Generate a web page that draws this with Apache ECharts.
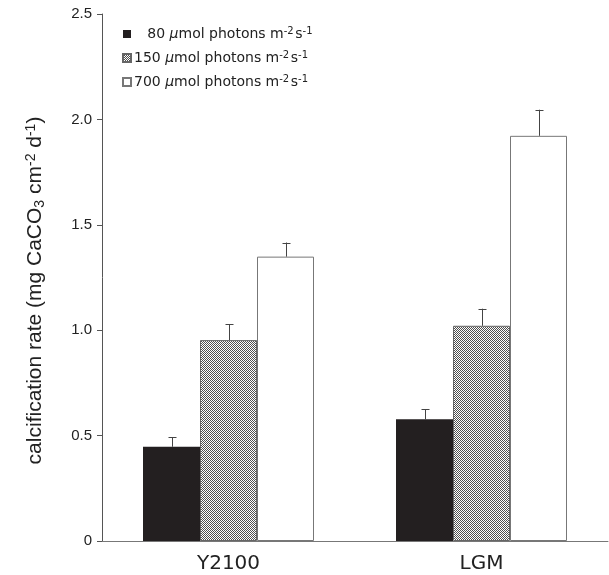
<!DOCTYPE html>
<html>
<head>
<meta charset="utf-8">
<script src="https://cdn.jsdelivr.net/npm/echarts@6/dist/echarts.min.js"></script>
<style>html,body{margin:0;padding:0;background:#fff}#c{width:609px;height:575px}</style>
</head>
<body>
<div id="c"></div>
<script>
const categories = ['Y2100', 'LGM'];
const seriesNames = ['80', '150', '700'];
const means80 = [0.447, 0.577];
const means150 = [0.953, 1.021];
const means700 = [1.349, 1.922];
const upper80 = [0.492, 0.626];
const upper150 = [1.029, 1.102];
const upper700 = [1.416, 2.046];
const yMin = 0, yMax = 2.5, yStep = 0.5;

const BAR_W = 57;

// dotted fill pattern
const pc = document.createElement('canvas');
pc.width = 2; pc.height = 2;
const pctx = pc.getContext('2d');
pctx.fillStyle = '#ffffff'; pctx.fillRect(0, 0, 2, 2);
pctx.fillStyle = '#505050'; pctx.fillRect(0, 0, 1, 1); pctx.fillRect(1, 1, 1, 1);

const means = [means80, means150, means700];
const uppers = [upper80, upper150, upper700];
const styles = [
  { color: '#231f20', borderColor: '#231f20', borderWidth: 0 },
  { color: { image: pc, repeat: 'repeat' }, borderColor: '#666', borderWidth: 1 },
  { color: '#ffffff', borderColor: '#777', borderWidth: 1 }
];

const series = [];
seriesNames.forEach((n, k) => {
  series.push({
    name: n, type: 'bar', barWidth: BAR_W, barGap: '0%',
    data: means[k], itemStyle: styles[k], silent: true
  });
});
seriesNames.forEach((n, k) => {
  series.push({
    type: 'custom', z: 5, silent: true,
    encode: { x: 0, y: [1, 2] },
    data: categories.map((c, i) => [i, means[k][i], uppers[k][i]]),
    renderItem: function (params, api) {
      const i = api.value(0);
      const b = api.coord([i, api.value(1)]);
      const t = api.coord([i, api.value(2)]);
      const x = Math.round(b[0] + (k - 1) * BAR_W) + 0.5;
      return {
        type: 'group',
        children: [
          { type: 'line', shape: { x1: x, y1: b[1], x2: x, y2: t[1] }, style: { stroke: '#444', lineWidth: 1 } },
          { type: 'line', shape: { x1: x - 4, y1: Math.round(t[1]) + 0.5, x2: x + 4, y2: Math.round(t[1]) + 0.5 }, style: { stroke: '#444', lineWidth: 1 } }
        ]
      };
    }
  });
});

const chart = echarts.init(document.getElementById('c'), null, { renderer: 'canvas' });
chart.setOption({
  animation: false,
  backgroundColor: '#fff',
  grid: { left: 102, right: 1, top: 14, bottom: 34 },
  legend: {
    data: seriesNames,
    orient: 'vertical',
    left: 117, top: 21,
    itemWidth: 8, itemHeight: 8, itemGap: 9,
    icon: 'rect',
    selectedMode: false,
    formatter: function (n) {
      const pad = n.length < 3 ? '\u2007 ' : '';
      return pad + n + ' {mu|μ}mol photons m{sup|-2}{sp| }s{sup|-1}';
    },
    textStyle: {
      fontFamily: 'DejaVu Sans', fontSize: 14, color: '#222', padding: [0, 0, 0, -2],
      rich: {
        mu: { fontFamily: 'DejaVu Sans', fontStyle: 'italic', fontSize: 14, color: '#222' },
        sup: { fontFamily: 'DejaVu Sans', fontSize: 10, color: '#222', verticalAlign: 'top', padding: [0, 0, 6, 0] },
        sp: { fontSize: 5 }
      }
    }
  },
  xAxis: {
    type: 'category', data: categories,
    axisLine: { lineStyle: { color: '#777', width: 1 } },
    axisTick: { show: false },
    axisLabel: { fontFamily: 'DejaVu Sans', fontSize: 20, color: '#222', margin: 13 }
  },
  yAxis: {
    type: 'value', min: yMin, max: yMax, interval: yStep,
    splitLine: { show: false },
    axisLine: { show: true, lineStyle: { color: '#555', width: 1 } },
    axisTick: { show: true, inside: false, length: 5, lineStyle: { color: '#555' } },
    axisLabel: {
      fontFamily: 'Liberation Sans', fontSize: 15, color: '#222', margin: 10,
      formatter: v => v === 0 ? '0' : v.toFixed(1)
    },
    name: 'calcification rate (mg CaCO{sub|3} cm{sup|-2} d{sup|-1})',
    nameLocation: 'middle', nameGap: 55, nameRotate: 90,
    nameTextStyle: {
      fontFamily: 'Liberation Sans', fontSize: 21, color: '#222', padding: [0, 26, 0, 0],
      rich: {
        sub: { fontFamily: 'Liberation Sans', fontSize: 14, color: '#222', padding: [9, 0, 0, 0] },
        sup: { fontFamily: 'Liberation Sans', fontSize: 14, color: '#222', padding: [0, 0, 9, 0] }
      }
    }
  },
  series: series
});
</script>
</body>
</html>
